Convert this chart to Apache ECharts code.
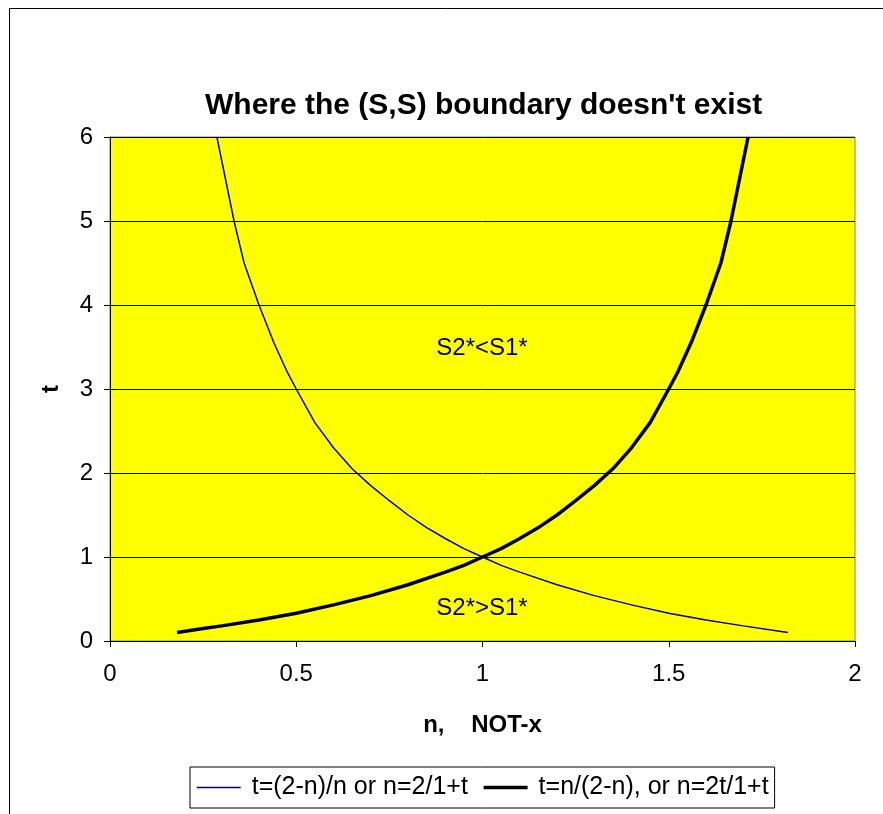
<!DOCTYPE html>
<html>
<head>
  <meta charset="utf-8">
  <script src="https://cdn.jsdelivr.net/npm/echarts@6.0.0/dist/echarts.min.js"></script>
  <style>
    html, body { margin: 0; padding: 0; background: #fff; }
    #chart { width: 883px; height: 814px; }
  </style>
</head>
<body>
  <div id="chart"></div>
  <script>
    // values, [n, t]
    var blueN = [0.287, 0.31, 0.333, 0.36, 0.4, 0.44, 0.476, 0.5, 0.55, 0.6, 0.65, 0.7, 0.75, 0.8, 0.85, 0.9, 0.95, 1.0, 1.05, 1.1, 1.2, 1.3, 1.4, 1.5, 1.6, 1.7, 1.82];
    var blueT = [6.0, 5.5, 5.0, 4.5, 4.0, 3.55, 3.2, 3.0, 2.6, 2.3, 2.05, 1.85, 1.67, 1.5, 1.35, 1.22, 1.1, 1.0, 0.9, 0.82, 0.67, 0.54, 0.43, 0.33, 0.25, 0.18, 0.1];
    var blackN = [0.18, 0.25, 0.3, 0.4, 0.5, 0.6, 0.7, 0.8, 0.9, 0.95, 1.0, 1.05, 1.1, 1.15, 1.2, 1.25, 1.3, 1.35, 1.4, 1.45, 1.5, 1.524, 1.56, 1.6, 1.64, 1.667, 1.69, 1.713];
    var blackT = [0.1, 0.15, 0.18, 0.25, 0.33, 0.43, 0.54, 0.67, 0.82, 0.9, 1.0, 1.1, 1.22, 1.35, 1.5, 1.67, 1.85, 2.05, 2.3, 2.6, 3.0, 3.2, 3.55, 4.0, 4.5, 5.0, 5.5, 6.0];
    var seriesNames = ['t=(2-n)/n or n=2/1+t', 't=n/(2-n), or n=2t/1+t'];

    function pairs(xs, ys) {
      return xs.map(function (x, i) { return [x, ys[i]]; });
    }

    var chart = echarts.init(document.getElementById('chart'));
    var font = 'Liberation Sans, Arial, sans-serif';

    chart.setOption({
      animation: false,
      textStyle: { fontFamily: font },
      title: {
        text: "Where the (S,S) boundary doesn't exist",
        left: 200,
        top: 86,
        textStyle: { fontSize: 30, fontWeight: 'bold', color: '#000', fontFamily: font }
      },
      grid: {
        left: 110, top: 137, right: 28, bottom: 173,
        show: true, backgroundColor: '#ffff00', borderColor: '#808080', borderWidth: 1
      },
      xAxis: {
        type: 'value', min: 0, max: 2, interval: 0.5,
        name: 'n,    NOT-x', nameLocation: 'middle', nameGap: 72,
        nameTextStyle: { fontSize: 24, fontWeight: 'bold', color: '#000', fontFamily: font },
        axisLine: { lineStyle: { color: '#000', width: 1 } },
        axisTick: { show: true, length: 6, lineStyle: { color: '#000' } },
        axisLabel: { fontSize: 24, color: '#000', margin: 21, fontFamily: font },
        splitLine: { show: false }
      },
      yAxis: {
        type: 'value', min: 0, max: 6, interval: 1,
        name: 't', nameLocation: 'middle', nameGap: 47, nameRotate: 90,
        nameTextStyle: { fontSize: 24, fontWeight: 'bold', color: '#000', fontFamily: font },
        axisLine: { show: true, lineStyle: { color: '#000', width: 1 } },
        axisTick: { show: true, length: 6, lineStyle: { color: '#000' } },
        axisLabel: { fontSize: 24, color: '#000', margin: 17, fontFamily: font },
        splitLine: { show: true, lineStyle: { color: '#000', width: 1 } }
      },
      legend: {
        left: 190, top: 767,
        padding: [8, 6, 8, 6],
        itemGap: 14, itemWidth: 44, itemHeight: 14,
        borderColor: '#000', borderWidth: 1,
        backgroundColor: '#fff',
        itemStyle: { color: 'rgba(0,0,0,0)', borderWidth: 0 },
        textStyle: { fontSize: 25, color: '#000', fontFamily: font, padding: [0, 0, 0, 6] },
        data: [
          { name: seriesNames[0], lineStyle: { color: '#000080', width: 1.5 } },
          { name: seriesNames[1], lineStyle: { color: '#000', width: 3.5 } }
        ]
      },
      series: [
        {
          name: seriesNames[0], type: 'line', data: pairs(blueN, blueT),
          symbol: 'none', smooth: false,
          lineStyle: { color: '#000080', width: 1.5 },
          itemStyle: { color: '#000080' }
        },
        {
          name: seriesNames[1], type: 'line', data: pairs(blackN, blackT),
          symbol: 'none', smooth: false,
          lineStyle: { color: '#000', width: 3.5 },
          itemStyle: { color: '#000' }
        }
      ],
      graphic: [
        { type: 'rect', shape: { x: 9.5, y: 8.5, width: 1000, height: 1000 }, style: { fill: 'none', stroke: '#000', lineWidth: 1 }, z: -10 },
        { type: 'text', x: 482, y: 348, style: { text: 'S2*<S1*', fill: '#000', font: '24px ' + font, align: 'center', verticalAlign: 'middle' }, z: 10 },
        { type: 'text', x: 482, y: 608, style: { text: 'S2*>S1*', fill: '#000', font: '24px ' + font, align: 'center', verticalAlign: 'middle' }, z: 10 }
      ]
    });
  </script>
</body>
</html>
